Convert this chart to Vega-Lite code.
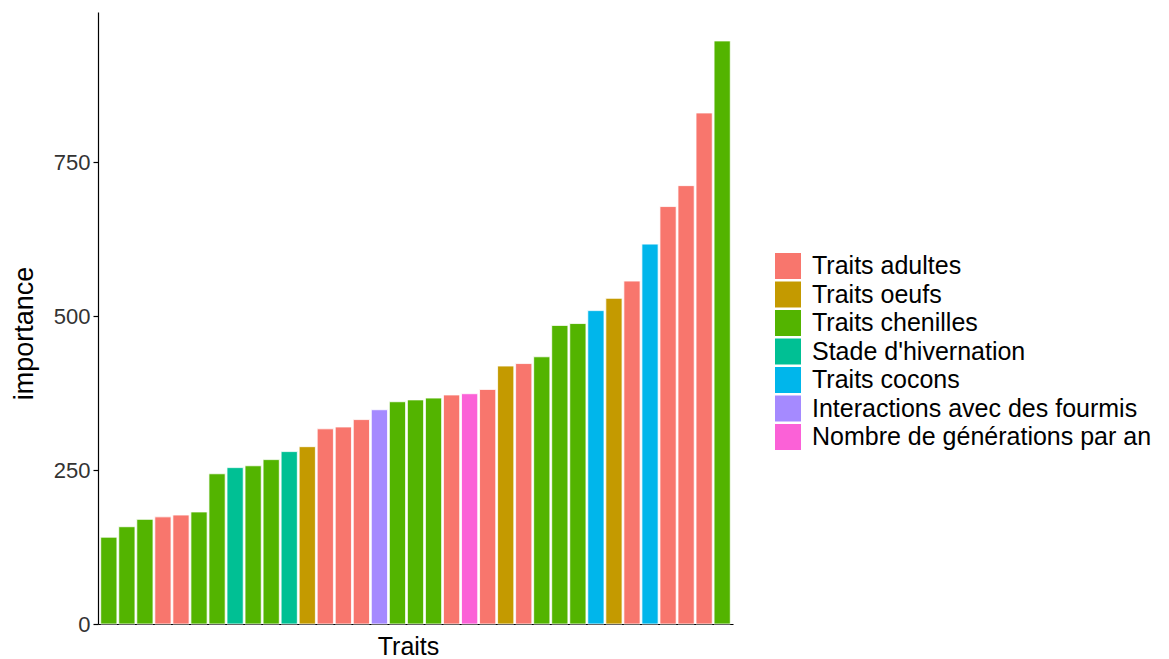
{
  "$schema": "https://vega.github.io/schema/vega-lite/v6.json",
  "autosize": "none",
  "padding": {"left": 98, "top": 12, "right": 436, "bottom": 35},
  "width": 635,
  "height": 612,
  "background": "white",
  "config": {
    "view": {"stroke": null},
    "font": "Liberation Sans"
  },
  "data": {
    "values": [
      {"trait": "t01", "groupe": "Traits chenilles", "importance": 141},
      {"trait": "t02", "groupe": "Traits chenilles", "importance": 158},
      {"trait": "t03", "groupe": "Traits chenilles", "importance": 170},
      {"trait": "t04", "groupe": "Traits adultes", "importance": 174},
      {"trait": "t05", "groupe": "Traits adultes", "importance": 177},
      {"trait": "t06", "groupe": "Traits chenilles", "importance": 182},
      {"trait": "t07", "groupe": "Traits chenilles", "importance": 244},
      {"trait": "t08", "groupe": "Stade d'hivernation", "importance": 254},
      {"trait": "t09", "groupe": "Traits chenilles", "importance": 257},
      {"trait": "t10", "groupe": "Traits chenilles", "importance": 267},
      {"trait": "t11", "groupe": "Stade d'hivernation", "importance": 280},
      {"trait": "t12", "groupe": "Traits oeufs", "importance": 288},
      {"trait": "t13", "groupe": "Traits adultes", "importance": 317},
      {"trait": "t14", "groupe": "Traits adultes", "importance": 320},
      {"trait": "t15", "groupe": "Traits adultes", "importance": 332},
      {"trait": "t16", "groupe": "Interactions avec des fourmis", "importance": 348},
      {"trait": "t17", "groupe": "Traits chenilles", "importance": 361},
      {"trait": "t18", "groupe": "Traits chenilles", "importance": 364},
      {"trait": "t19", "groupe": "Traits chenilles", "importance": 367},
      {"trait": "t20", "groupe": "Traits adultes", "importance": 372},
      {"trait": "t21", "groupe": "Nombre de générations par an", "importance": 374},
      {"trait": "t22", "groupe": "Traits adultes", "importance": 381},
      {"trait": "t23", "groupe": "Traits oeufs", "importance": 419},
      {"trait": "t24", "groupe": "Traits adultes", "importance": 423},
      {"trait": "t25", "groupe": "Traits chenilles", "importance": 434},
      {"trait": "t26", "groupe": "Traits chenilles", "importance": 485},
      {"trait": "t27", "groupe": "Traits chenilles", "importance": 488},
      {"trait": "t28", "groupe": "Traits cocons", "importance": 509},
      {"trait": "t29", "groupe": "Traits oeufs", "importance": 529},
      {"trait": "t30", "groupe": "Traits adultes", "importance": 557},
      {"trait": "t31", "groupe": "Traits cocons", "importance": 617},
      {"trait": "t32", "groupe": "Traits adultes", "importance": 678},
      {"trait": "t33", "groupe": "Traits adultes", "importance": 712},
      {"trait": "t34", "groupe": "Traits adultes", "importance": 830},
      {"trait": "t35", "groupe": "Traits chenilles", "importance": 947}
    ]
  },
  "mark": {"type": "bar", "stroke": "white", "strokeWidth": 0.8},
  "encoding": {
    "x": {
      "field": "trait",
      "type": "nominal",
      "sort": null,
      "scale": {"paddingInner": 0.1, "paddingOuter": 0.15},
      "axis": {
        "title": "Traits",
        "labels": false,
        "ticks": false,
        "domainColor": "black",
        "domainWidth": 1.2,
        "titleFont": "Liberation Sans",
        "titleFontSize": 25,
        "titleFontWeight": "normal",
        "titleColor": "black",
        "titlePadding": 10,
        "titleX": 310
      }
    },
    "y": {
      "field": "importance",
      "type": "quantitative",
      "scale": {"domain": [0, 994], "nice": false, "zero": true},
      "axis": {
        "title": "importance",
        "values": [0, 250, 500, 750],
        "grid": false,
        "domainColor": "black",
        "domainWidth": 1.2,
        "tickColor": "black",
        "tickWidth": 1.2,
        "tickSize": 5,
        "labelFont": "Liberation Sans",
        "labelFontSize": 22,
        "labelColor": "#333333",
        "labelPadding": 3,
        "titleFont": "Liberation Sans",
        "titleFontSize": 27,
        "titleFontWeight": "normal",
        "titleColor": "black",
        "titlePadding": 15,
        "titleY": 321
      }
    },
    "color": {
      "field": "groupe",
      "type": "nominal",
      "scale": {
        "domain": ["Traits adultes", "Traits oeufs", "Traits chenilles", "Stade d'hivernation", "Traits cocons", "Interactions avec des fourmis", "Nombre de générations par an"],
        "range": ["#F8766D", "#C49A00", "#53B400", "#00C094", "#00B6EB", "#A58AFF", "#FB61D7"]
      },
      "legend": {
        "title": null,
        "orient": "none",
        "legendX": 677,
        "legendY": 241,
        "padding": 0,
        "symbolType": "square",
        "symbolSize": 676,
        "symbolStrokeWidth": 0,
        "symbolOpacity": 1,
        "labelFont": "Liberation Sans",
        "labelFontSize": 25,
        "labelColor": "black",
        "labelOffset": 11,
        "labelLimit": 400,
        "rowPadding": 2.5
      }
    }
  }
}
